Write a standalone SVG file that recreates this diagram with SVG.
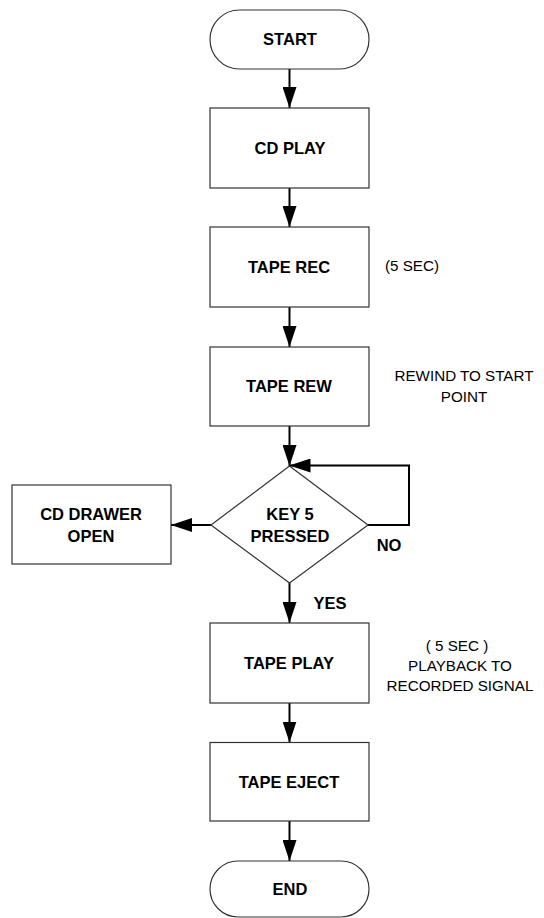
<svg xmlns="http://www.w3.org/2000/svg" width="544" height="918" viewBox="0 0 544 918">
<style>
.box{fill:#fff;stroke:#333;stroke-width:1.2}
.lbl{font-family:"Liberation Sans",Arial,sans-serif;font-weight:bold;font-size:16.5px;fill:#000;text-anchor:middle}
.note{font-family:"Liberation Sans",Arial,sans-serif;font-size:15.2px;fill:#000;text-anchor:middle}
.conn{fill:none;stroke:#000;stroke-width:2}
</style>
<defs>
<marker id="arr" markerUnits="userSpaceOnUse" markerWidth="21" markerHeight="14" refX="21" refY="7" orient="auto">
<path d="M0,0 L21,7 L0,14 z" fill="#000"/>
</marker>
</defs>
<rect width="544" height="918" fill="#fff"/>
<g id="connectors">
<path class="conn" d="M289.5,69 V108" marker-end="url(#arr)"/>
<path class="conn" d="M289.5,188 V227" marker-end="url(#arr)"/>
<path class="conn" d="M289.5,307 V347" marker-end="url(#arr)"/>
<path class="conn" d="M289.5,426 V466" marker-end="url(#arr)"/>
<path class="conn" d="M368,525 H409 V465.5 H289.5" marker-end="url(#arr)"/>
<path class="conn" d="M211,525 H171" marker-end="url(#arr)"/>
<path class="conn" d="M289.5,583 V623" marker-end="url(#arr)"/>
<path class="conn" d="M289.5,703 V742.5" marker-end="url(#arr)"/>
<path class="conn" d="M289.5,821 V861" marker-end="url(#arr)"/>
</g>
<g id="start">
<rect class="box" x="210" y="10" width="159" height="59" rx="29.5"/>
<text class="lbl" x="290" y="45">START</text>
</g>
<g id="cdplay">
<rect class="box" x="210" y="108" width="159" height="80"/>
<text class="lbl" x="290" y="154">CD PLAY</text>
</g>
<g id="taperec">
<rect class="box" x="210" y="227" width="159" height="80"/>
<text class="lbl" x="289" y="273">TAPE REC</text>
<text class="note" x="412" y="270.5">(5 SEC)</text>
</g>
<g id="taperew">
<rect class="box" x="210" y="347" width="159" height="79"/>
<text class="lbl" x="289" y="392">TAPE REW</text>
<text class="note" x="464" y="380.5">REWIND TO START</text>
<text class="note" x="464" y="402">POINT</text>
</g>
<g id="decision">
<polygon class="box" points="289.5,466 368,525 289.5,583 211,525"/>
<text class="lbl" x="290" y="520">KEY 5</text>
<text class="lbl" x="290" y="541.5">PRESSED</text>
<text class="lbl" x="389" y="551">NO</text>
<text class="lbl" x="330" y="608.5">YES</text>
</g>
<g id="cddrawer">
<rect class="box" x="12" y="485" width="159" height="79"/>
<text class="lbl" x="91" y="520">CD DRAWER</text>
<text class="lbl" x="91" y="541.5">OPEN</text>
</g>
<g id="tapeplay">
<rect class="box" x="210" y="623" width="159" height="80"/>
<text class="lbl" x="289" y="669">TAPE PLAY</text>
<text class="note" x="457" y="650.5">( 5 SEC )</text>
<text class="note" x="460" y="671">PLAYBACK TO</text>
<text class="note" x="460" y="691">RECORDED SIGNAL</text>
</g>
<g id="tapeeject">
<rect class="box" x="210" y="742.5" width="159" height="78.5"/>
<text class="lbl" x="289" y="788">TAPE EJECT</text>
</g>
<g id="end">
<rect class="box" x="210" y="861" width="159" height="56" rx="28"/>
<text class="lbl" x="290" y="895">END</text>
</g>
</svg>
